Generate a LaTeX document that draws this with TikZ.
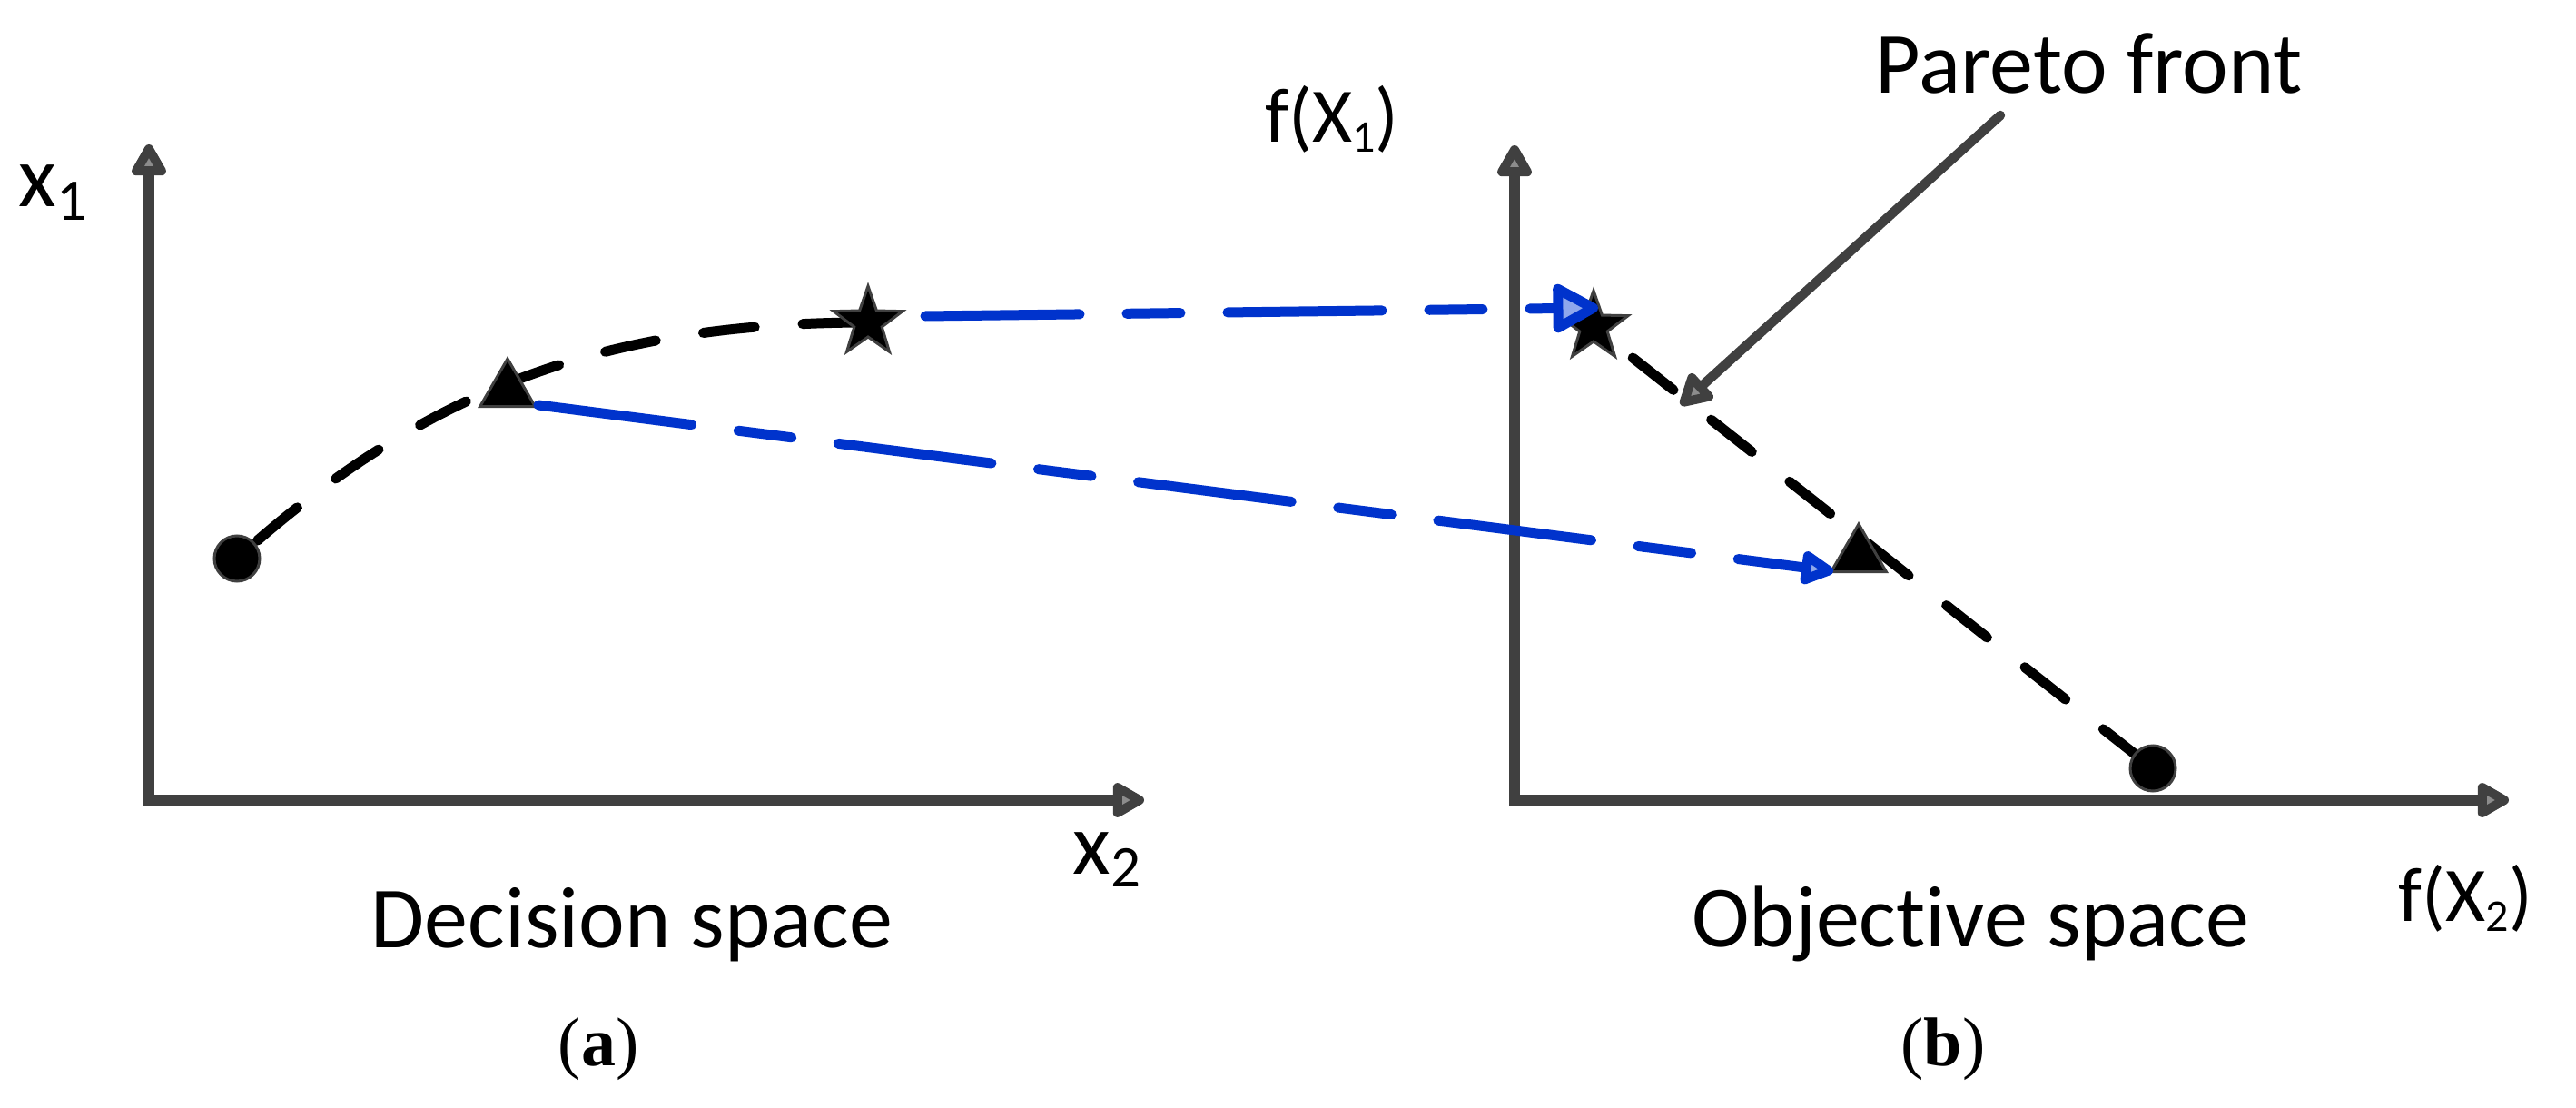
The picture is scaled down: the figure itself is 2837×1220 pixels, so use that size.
\documentclass[tikz,border=0pt]{standalone}
\usepackage{fontspec}
\setmainfont{Carlito}[Ligatures={NoCommon}]
\newfontfamily\capfont{Liberation Serif}
\usetikzlibrary{arrows.meta,shapes.geometric,calc}
\definecolor{axisgray}{HTML}{404040}
\definecolor{tipgray}{HTML}{8C8C8C}
\definecolor{arrowblue}{HTML}{0033CC}
\definecolor{tipblue}{HTML}{8FA8EC}
\tikzset{
  graytip/.tip={Triangle[round,length=10pt,width=10.5pt,fill=tipgray]},
  bluetipbig/.tip={Triangle[round,length=14pt,width=14.5pt,fill=tipblue]},
  bluetipsmall/.tip={Triangle[round,length=10.5pt,width=10pt,fill=tipblue]},
}
\begin{document}
\begin{tikzpicture}[x=0.25pt,y=-0.25pt,
  axisline/.style={draw=axisgray,line width=2.8pt,graytip-graytip},
  pointer/.style={draw=axisgray,line width=2.6pt,line cap=round,-graytip},
  frontline/.style={draw=black,line width=2.75pt,line cap=round,dash pattern=on 14.25pt off 13.25pt},
  mapline/.style={draw=arrowblue,line width=2.75pt,line cap=round,dash pattern=on 42.5pt off 13pt on 14.75pt off 13pt},
  dotmark/.style={circle,fill=black,draw=axisgray,line width=0.75pt,minimum size=12.5pt,inner sep=0pt},
  trimark/.style={regular polygon,regular polygon sides=3,fill=black,draw=axisgray,line width=0.75pt,minimum size=17.5pt,inner sep=0pt},
  starmark/.style={star,star points=5,star point ratio=2.5,fill=black,draw=axisgray,line width=0.75pt,minimum size=20pt,inner sep=0pt},
  biglbl/.style={font=\fontsize{24pt}{28pt}\selectfont,inner sep=0pt},
  funlbl/.style={font=\fontsize{21.25pt}{25pt}\selectfont,inner sep=0pt,anchor=base west},
  caplbl/.style={font=\capfont\fontsize{19pt}{22pt}\selectfont,inner sep=0pt,anchor=base},
]
\useasboundingbox (0,0) rectangle (2837,1220);

% axes
\coordinate (Y1) at (164,159);
\coordinate (O1) at (164,881);
\coordinate (X1) at (1260,881);
\coordinate (Y2) at (1668,160);
\coordinate (O2) at (1668,881);
\coordinate (X2) at (2763,881);
\draw[axisline] (Y1) -- (O1) -- (X1);
\draw[axisline] (Y2) -- (O2) -- (X2);

% marker positions
\coordinate (ldotp) at (261,615);
\coordinate (ltrip) at (559,430);
\coordinate (lstarp) at (956,355);
\coordinate (rstarp) at (1755,360);
\coordinate (rtrip) at (2047,612);
\coordinate (rdotp) at (2371,846);

% black dashed curves (under markers)
\draw[frontline,dash phase=20pt] (ldotp) .. controls +(200,-180) and +(-300,0) .. (lstarp);
\draw[frontline,dash phase=13.75pt] (rstarp) -- (rdotp);

% markers
\node[dotmark] (ldot) at (ldotp) {};
\node[trimark] (ltri) at (ltrip) {};
\node[starmark] (lstar) at (lstarp) {};
\node[starmark] (rstar) at (rstarp) {};
\node[trimark] (rtri) at (rtrip) {};
\node[dotmark] (rdot) at (rdotp) {};

% blue mapping arrows
\coordinate (b1s) at (1019,348);
\coordinate (b1t) at (1760,339);
\coordinate (b2s) at (593,446);
\coordinate (b2t) at (2019,629);
\draw[mapline,-bluetipbig] (b1s) -- (b1t);
\draw[mapline,-bluetipsmall] (b2s) -- (b2t);

% labels
\node[biglbl,anchor=base] (pareto) at (2301,103) {Pareto front};
\coordinate (pfs) at (2203,127);
\coordinate (pft) at (1851,446);
\draw[pointer] (pfs) -- (pft);

\node[biglbl,anchor=base west] (lx1) at (20,228) {x{\fontsize{16.25pt}{18pt}\selectfont\raisebox{-3.5pt}{1}}};
\node[biglbl,anchor=base west] (lx2) at (1181,962) {x{\fontsize{16.25pt}{18pt}\selectfont\raisebox{-3.5pt}{2}}};
\node[funlbl] (fx1) at (1393,157) {f(X{\fontsize{12.5pt}{14pt}\selectfont\raisebox{-2.75pt}{1}})};
\node[funlbl] (fx2) at (2641,1014) {f(X{\fontsize{12.5pt}{14pt}\selectfont\raisebox{-2.75pt}{2}})};

\node[biglbl,anchor=base] (dspace) at (696,1043) {Decision space};
\node[biglbl,anchor=base] (ospace) at (2170,1042) {Objective space};
\node[caplbl] (capa) at (659,1173) {(\textbf{a})};
\node[caplbl] (capb) at (2140,1173) {(\textbf{b})};
\end{tikzpicture}
\end{document}
